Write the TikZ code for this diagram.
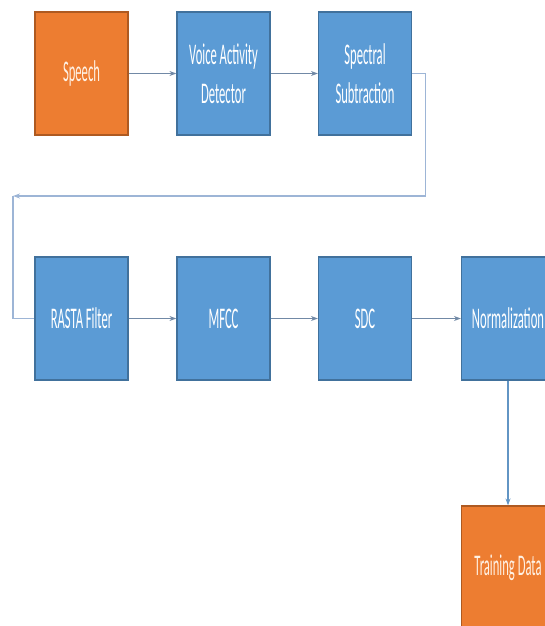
\documentclass[tikz,border=0pt]{standalone}
\usepackage{fontspec}
\newfontfamily\boxfont[FakeStretch=0.42]{Carlito}
\usetikzlibrary{arrows.meta}
\definecolor{boxblue}{HTML}{5B9BD5}
\definecolor{blueedge}{HTML}{41719C}
\definecolor{boxorange}{HTML}{ED7D31}
\definecolor{orangeedge}{HTML}{AE5A21}
\definecolor{arrowgray}{HTML}{7189A6}
\definecolor{loopblue}{HTML}{9DB5D6}
\tikzset{
    stage/.style={draw=blueedge,fill=boxblue,line width=0.6pt,
        minimum width=46.5pt,minimum height=61.5pt,inner sep=0pt,
        text=white,align=center,font=\boxfont\fontsize{15}{19.5}\selectfont},
    endpoint/.style={stage,draw=orangeedge,fill=boxorange,text=white!90!orange},
    flow/.style={draw=arrowgray,line width=0.6pt,-{Stealth[length=3.5pt,width=2.5pt]}},
}
\begin{document}
\begin{tikzpicture}[x=0.5pt,y=-0.5pt]
        \useasboundingbox (0,0) rectangle (545,626);
        \clip (0,0) rectangle (545,626);
        %% First row
        \node[endpoint] (speech) at (81.5,73.5) {Speech};
        \node[stage] (vad) at (223.5,73.5) {Voice Activity\\Detector};
        \node[stage] (spec) at (365,73.5) {Spectral\\Subtraction};
        %% Second row
        \node[stage] (rasta) at (81.5,318.5) {RASTA Filter};
        \node[stage] (mfcc) at (223.5,318.5) {MFCC};
        \node[stage] (sdc) at (365,318.5) {SDC};
        \node[stage] (norm) at (508,318.5) {Normalization};
        %% Output
        \node[endpoint] (train) at (508,567.5) {Training Data};
        %% Connectors
        \draw[flow] (speech) -- (vad);
        \draw[flow] (vad) -- (spec);
        \coordinate (turn) at (13,196);
        \draw[flow,draw=loopblue] (spec.east) -- ++(13,0) |- (turn);
        \draw[loopblue,line width=0.6pt] (turn) |- (rasta.west);
        \draw[flow] (rasta) -- (mfcc);
        \draw[flow] (mfcc) -- (sdc);
        \draw[flow] (sdc) -- (norm);
        \draw[flow,draw=boxblue!80!gray] (norm) -- (train);
    \end{tikzpicture}
\end{document}
